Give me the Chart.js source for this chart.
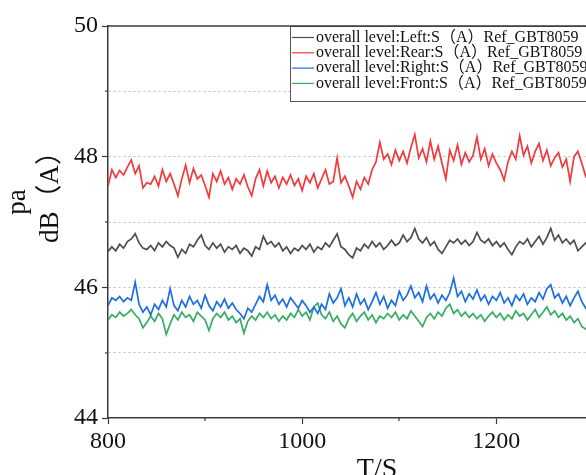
<!DOCTYPE html>
<html>
<head>
<meta charset="utf-8">
<script src="https://cdn.jsdelivr.net/npm/chart.js@4.4.1/dist/chart.umd.min.js"></script>
<style>
  html, body { margin: 0; padding: 0; background: #fff; overflow: hidden; }
  #wrap { width: 586px; height: 475px; overflow: hidden; }
</style>
</head>
<body>
<div id="wrap"><canvas id="chart" width="660" height="475"></canvas></div>
<script>
// time axis: one sample every 4 s starting at 800 s
const T_START = 800;
const T_STEP = 4;

const seriesLabels = [
    "overall level:Left:S（A）Ref_GBT8059",
    "overall level:Rear:S（A）Ref_GBT8059",
    "overall level:Right:S（A）Ref_GBT8059",
    "overall level:Front:S（A）Ref_GBT8059"
];

const leftLevel = [
    46.55, 46.62, 46.56, 46.66, 46.60, 46.70, 46.74, 46.82, 46.68, 46.60,
    46.58, 46.64, 46.56, 46.68, 46.62, 46.70, 46.64, 46.60, 46.46, 46.58,
    46.52, 46.66, 46.62, 46.72, 46.80, 46.64, 46.58, 46.68, 46.60, 46.66,
    46.54, 46.62, 46.58, 46.64, 46.52, 46.60, 46.56, 46.48, 46.62, 46.58,
    46.78, 46.66, 46.70, 46.62, 46.68, 46.56, 46.62, 46.52, 46.60, 46.56,
    46.64, 46.58, 46.66, 46.54, 46.62, 46.58, 46.68, 46.62, 46.72, 46.82,
    46.62, 46.58, 46.50, 46.45, 46.60, 46.56, 46.66, 46.60, 46.70, 46.62,
    46.68, 46.58, 46.64, 46.72, 46.64, 46.68, 46.80, 46.70, 46.76, 46.90,
    46.74, 46.68, 46.76, 46.64, 46.70, 46.58, 46.52, 46.62, 46.72, 46.68,
    46.74, 46.66, 46.72, 46.64, 46.70, 46.84, 46.72, 46.68, 46.74, 46.64,
    46.70, 46.62, 46.68, 46.58, 46.50, 46.62, 46.70, 46.66, 46.74, 46.62,
    46.70, 46.78, 46.66, 46.76, 46.90, 46.72, 46.80, 46.68, 46.74, 46.66,
    46.72, 46.56, 46.62, 46.68, 46.64
];

const rearLevel = [
    47.55, 47.80, 47.68, 47.79, 47.72, 47.84, 47.95, 47.74, 47.86, 47.52,
    47.60, 47.58, 47.70, 47.55, 47.80, 47.62, 47.74, 47.58, 47.40, 47.66,
    47.87, 47.60, 47.82, 47.66, 47.72, 47.56, 47.38, 47.74, 47.62, 47.78,
    47.58, 47.68, 47.50, 47.66, 47.58, 47.72, 47.54, 47.40, 47.66, 47.80,
    47.55, 47.78, 47.60, 47.70, 47.52, 47.68, 47.58, 47.72, 47.56, 47.66,
    47.48, 47.70, 47.60, 47.74, 47.52, 47.66, 47.80, 47.58, 47.62, 47.98,
    47.60, 47.70, 47.55, 47.38, 47.62, 47.50, 47.68, 47.58, 47.80, 47.92,
    48.22, 47.96, 48.04, 47.88, 48.10, 47.94, 48.08, 47.90, 48.14, 48.34,
    47.98, 48.12, 47.92, 48.24, 47.96, 48.16, 47.90, 47.66, 48.10, 47.94,
    48.18, 47.88, 48.06, 47.92, 48.02, 48.30, 47.96, 48.12, 47.86, 48.04,
    47.90, 47.80, 47.64, 47.92, 48.08, 47.96, 48.32, 48.02, 48.16, 47.90,
    48.08, 48.20, 47.94, 48.10, 47.86, 47.98, 48.06, 47.84, 47.96, 47.62,
    48.00, 48.08, 47.90, 47.70, 47.78
];

const rightLevel = [
    45.72, 45.84, 45.80, 45.86, 45.78, 45.84, 45.80, 46.08, 45.74, 45.62,
    45.70, 45.58, 45.74, 45.66, 45.80, 45.70, 45.98, 45.72, 45.64, 45.80,
    45.70, 45.86, 45.74, 45.80, 45.68, 45.88, 45.72, 45.64, 45.78, 45.70,
    45.82, 45.68, 45.76, 45.66, 45.60, 45.52, 45.68, 45.62, 45.74, 45.86,
    45.78, 46.04, 45.80, 45.88, 45.74, 45.82, 45.70, 45.84, 45.76, 45.68,
    45.80, 45.72, 45.62, 45.70, 45.60, 45.74, 45.66, 45.90, 45.76, 45.84,
    45.98, 45.72, 45.84, 45.70, 45.90, 45.74, 45.82, 45.66, 45.78, 45.92,
    45.74, 45.86, 45.68, 45.80, 45.72, 45.94, 45.80, 45.88, 46.02, 45.84,
    45.92, 45.78, 46.02, 45.82, 45.90, 45.76, 45.88, 45.80, 45.92, 46.14,
    45.86, 45.94, 45.78, 45.90, 45.82, 45.96, 45.80, 45.88, 45.74, 45.86,
    45.80, 45.92, 45.76, 45.84, 45.72, 45.88, 45.80, 45.90, 45.74, 45.84,
    45.78, 45.92, 45.82, 45.98, 46.04, 45.84, 45.90, 45.76, 45.86, 45.72,
    45.84, 45.94, 45.78, 45.68, 45.74
];

const frontLevel = [
    45.50, 45.58, 45.54, 45.62, 45.56, 45.60, 45.66, 45.58, 45.52, 45.38,
    45.46, 45.56, 45.48, 45.60, 45.52, 45.28, 45.44, 45.58, 45.50, 45.62,
    45.54, 45.58, 45.48, 45.62, 45.56, 45.50, 45.34, 45.52, 45.60, 45.54,
    45.62, 45.50, 45.56, 45.46, 45.52, 45.30, 45.48, 45.56, 45.50, 45.60,
    45.54, 45.62, 45.52, 45.58, 45.48, 45.56, 45.50, 45.60, 45.54, 45.66,
    45.56, 45.62, 45.50, 45.70, 45.76, 45.58, 45.52, 45.62, 45.48, 45.56,
    45.44, 45.38, 45.52, 45.60, 45.48, 45.56, 45.62, 45.50, 45.58, 45.46,
    45.56, 45.52, 45.60, 45.54, 45.62, 45.50, 45.58, 45.52, 45.64, 45.56,
    45.48, 45.40, 45.54, 45.60, 45.52, 45.62, 45.56, 45.68, 45.74, 45.60,
    45.66, 45.56, 45.62, 45.54, 45.60, 45.52, 45.58, 45.48, 45.56, 45.62,
    45.54, 45.60, 45.50, 45.58, 45.52, 45.64, 45.56, 45.60, 45.50, 45.58,
    45.66, 45.54, 45.62, 45.70, 45.58, 45.64, 45.54, 45.60, 45.50, 45.56,
    45.46, 45.52, 45.40, 45.36, 45.44
];

const lineColors = ["#4d4d4d", "#f2393c", "#1c6de3", "#35ad62"];

const yTitleLines = ["pa", "dB（A）"];
const xTitle = "T/S";

const AXIS_COLOR = "#3a3a3a";
const GRID_COLOR = "#bdbdbd";
const TEXT_COLOR = "#111";
const SERIF = '"Liberation Serif", "Noto Sans CJK SC", serif';

const times = leftLevel.map((_, i) => T_START + i * T_STEP);
const toPoints = arr => arr.map((v, i) => ({ x: times[i], y: v }));

const allSeries = [leftLevel, rearLevel, rightLevel, frontLevel];

function strokeLine(ctx, x1, y1, x2, y2) {
    ctx.beginPath();
    ctx.moveTo(x1, y1);
    ctx.lineTo(x2, y2);
    ctx.stroke();
}

// minor ticks, framed legend box and axis titles
const decorations = {
    id: "decorations",
    afterDraw(chart) {
        const { ctx, chartArea: a, scales } = chart;
        ctx.save();

        ctx.strokeStyle = AXIS_COLOR;
        ctx.lineWidth = 1.2;
        [45, 47, 49].forEach(v => {
            const y = Math.round(scales.y.getPixelForValue(v));
            strokeLine(ctx, a.left - 3, y, a.left, y);
        });
        [900, 1100, 1300].forEach(v => {
            const x = Math.round(scales.x.getPixelForValue(v));
            strokeLine(ctx, x, a.bottom, x, a.bottom + 3);
        });

        // legend
        const lx = 290, ly = a.top, rowH = 15.3;
        ctx.font = "16px " + SERIF;
        const textW = Math.max(...chart.data.datasets.map(d => ctx.measureText(d.label).width));
        const boxW = textW + 34, boxH = 75;
        ctx.fillStyle = "#fff";
        ctx.fillRect(lx, ly, boxW, boxH);
        ctx.strokeStyle = "#555";
        ctx.lineWidth = 1;
        ctx.strokeRect(lx + 0.5, ly + 0.5, boxW, boxH);
        chart.data.datasets.forEach((ds, i) => {
            const cy = ly + 11.5 + i * rowH;
            ctx.strokeStyle = ds.borderColor;
            ctx.lineWidth = 1.2;
            strokeLine(ctx, lx + 2, cy, lx + 24, cy);
            ctx.fillStyle = TEXT_COLOR;
            ctx.textAlign = "left";
            ctx.textBaseline = "middle";
            ctx.fillText(ds.label, lx + 26, cy);
        });

        // top frame line
        ctx.strokeStyle = AXIS_COLOR;
        ctx.lineWidth = 1.5;
        strokeLine(ctx, a.left, a.top, a.right, a.top);

        // axis titles
        ctx.fillStyle = TEXT_COLOR;
        ctx.textBaseline = "alphabetic";
        ctx.font = "27px " + SERIF;
        ctx.save();
        ctx.translate(25, 202);
        ctx.rotate(-Math.PI / 2);
        ctx.textAlign = "center";
        ctx.fillText(yTitleLines[0], 0, 0);
        ctx.restore();
        ctx.save();
        ctx.translate(58, 243);
        ctx.rotate(-Math.PI / 2);
        ctx.textAlign = "left";
        ctx.fillText(yTitleLines[1], 0, 0);
        ctx.restore();

        ctx.font = "28px " + SERIF;
        ctx.textAlign = "center";
        ctx.fillText(xTitle, 377, 477);

        ctx.restore();
    }
};

new Chart(document.getElementById("chart"), {
    type: "line",
    data: {
        datasets: allSeries.map((arr, i) => ({
            label: seriesLabels[i],
            data: toPoints(arr),
            borderColor: lineColors[i],
            backgroundColor: lineColors[i],
            borderWidth: 1.7,
            pointRadius: 0,
            tension: 0,
            fill: false
        }))
    },
    options: {
        responsive: false,
        animation: false,
        devicePixelRatio: 1,
        layout: { padding: { top: 26, right: 18, left: 0, bottom: 0 } },
        plugins: {
            legend: { display: false },
            tooltip: { enabled: false }
        },
        scales: {
            x: {
                type: "linear",
                min: 800,
                max: 1350,
                afterFit: s => { s.height = 57; },
                border: { color: AXIS_COLOR, width: 1.5 },
                grid: {
                    drawOnChartArea: false,
                    tickLength: 6,
                    tickWidth: 1.2,
                    tickColor: c => (c.tick && c.tick.value % 200 === 0 ? AXIS_COLOR : "rgba(0,0,0,0)")
                },
                ticks: {
                    stepSize: 100,
                    autoSkip: false,
                    maxRotation: 0,
                    padding: 3,
                    color: TEXT_COLOR,
                    font: { family: SERIF, size: 24 },
                    callback: v => (v % 200 === 0 ? String(v) : "")
                }
            },
            y: {
                min: 44,
                max: 50,
                afterFit: s => { s.width = 108; },
                border: { color: AXIS_COLOR, width: 1.5, dash: [2, 3] },
                grid: {
                    lineWidth: 1,
                    color: c => (c.tick && (c.tick.value === 44 || c.tick.value === 50) ? "rgba(0,0,0,0)" : GRID_COLOR),
                    tickLength: 6,
                    tickWidth: 1.2,
                    tickBorderDash: [],
                    tickColor: c => (c.tick && c.tick.value % 2 === 0 ? AXIS_COLOR : "rgba(0,0,0,0)")
                },
                ticks: {
                    stepSize: 1,
                    padding: 4,
                    color: TEXT_COLOR,
                    font: { family: SERIF, size: 24 },
                    callback: v => (v % 2 === 0 ? String(v) : "")
                }
            }
        }
    },
    plugins: [decorations]
});
</script>
</body>
</html>
